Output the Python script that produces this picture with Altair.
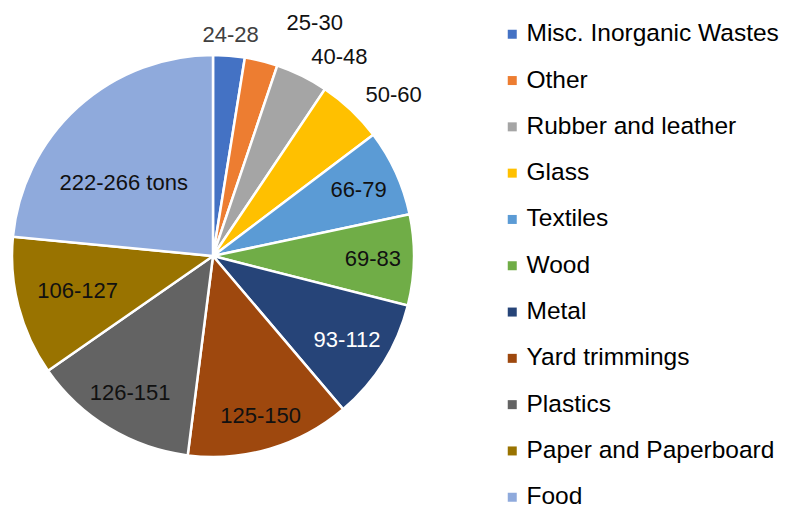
import altair as alt
import pandas as pd

categories = ["Misc. Inorganic Wastes", "Other", "Rubber and leather", "Glass", "Textiles",
              "Wood", "Metal", "Yard trimmings", "Plastics", "Paper and Paperboard", "Food"]
low = [24, 25, 40, 50, 66, 69, 93, 125, 126, 106, 222]
high = [28, 30, 48, 60, 79, 83, 112, 150, 151, 127, 266]
colors = ["#4472C4", "#ED7D31", "#A5A5A5", "#FFC000", "#5B9BD5", "#70AD47",
          "#264478", "#9E480E", "#636363", "#997300", "#8FAADC"]

labels = [f"{a}-{b}" for a, b in zip(low, high)]
labels[-1] = labels[-1] + " tons"

df = pd.DataFrame({"category": categories, "value": low, "label": labels,
                   "idx": list(range(len(categories)))})

FONT = "Liberation Sans"

base = alt.Chart(df).encode(
    theta=alt.Theta("value:Q", stack=True),
    order=alt.Order("idx:Q"),
)

pie = base.mark_arc(stroke="white", strokeWidth=2.5).encode(
    color=alt.Color("category:N", sort=categories,
                    scale=alt.Scale(domain=categories, range=colors),
                    legend=alt.Legend(title=None, orient="none", legendX=488, legendY=-33,
                                      symbolType="square", symbolSize=81, symbolStrokeWidth=0,
                                      labelFont=FONT, labelFontSize=24.5, labelColor="#000000",
                                      rowPadding=21.3, labelOffset=2, padding=0,
                                      labelLimit=400))
)


def label_layer(cats, radius, color="#000000", align="center", dx=0, dy=0):
    return base.mark_text(radius=radius, font=FONT, fontSize=22, color=color,
                          align=align, baseline="middle", dx=dx, dy=dy).encode(
        text=alt.condition(alt.FieldOneOfPredicate(field="category", oneOf=cats),
                           "label:N", alt.value(""))
    )


inside = label_layer(["Textiles", "Wood", "Plastics"], 160, "#111111")
yard = label_layer(["Yard trimmings"], 167, "#111111")
paper = label_layer(["Paper and Paperboard"], 140, "#111111")
metal = label_layer(["Metal"], 158, "#ffffff")
food = label_layer(["Food"], 115, "#111111", dx=-12, dy=12)
misc = label_layer(["Misc. Inorganic Wastes"], 222, "#404040")
outer = label_layer(["Rubber and leather", "Glass"], 222, "#111111", align="left")
other = label_layer(["Other"], 240, "#111111", align="left", dx=16)

chart = alt.layer(pie, inside, yard, paper, metal, food, misc, outer, other).properties(
    width=402, height=402,
    padding={"left": 12, "top": 55, "right": 374, "bottom": 49},
    autosize="none",
).configure_view(stroke=None).configure(background="white")

chart.save("out.html", embed_options={"renderer": "svg", "actions": False})
